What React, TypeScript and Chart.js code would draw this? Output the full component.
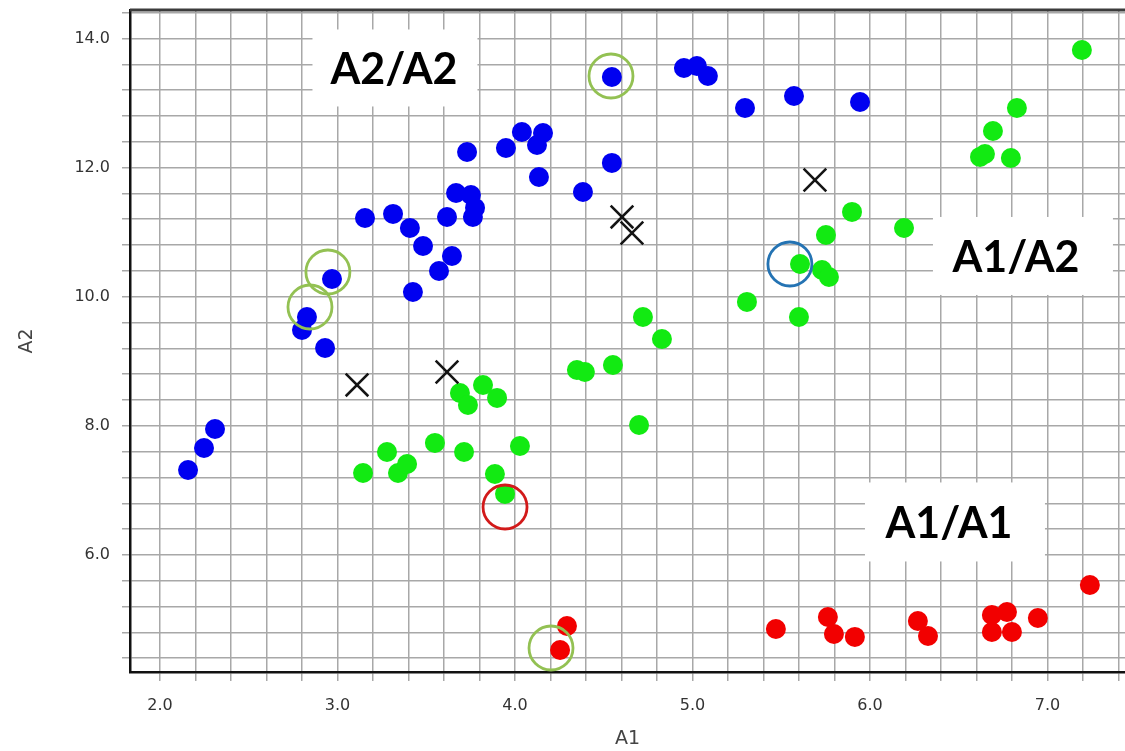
import { useEffect, useRef } from "react";
import { Chart, registerables } from "chart.js";

Chart.register(...registerables);

// Genotype clusters: A1 signal (x) vs A2 signal (y)
const a2a2A1 = [2.158, 2.248, 2.31, 2.8, 2.828, 2.93, 2.969, 3.155, 3.313, 3.408, 3.482, 3.645, 3.572, 3.425, 3.617, 3.668, 3.752, 3.775, 3.763, 3.73, 3.949, 4.039, 4.158, 4.124, 4.135, 4.383, 4.546, 4.546, 4.952, 5.025, 5.087, 5.296, 5.572, 5.944];
const a2a2A2 = [7.316, 7.657, 7.951, 9.485, 9.686, 9.206, 10.275, 11.22, 11.282, 11.065, 10.786, 10.631, 10.399, 10.073, 11.235, 11.607, 11.576, 11.375, 11.235, 12.242, 12.304, 12.552, 12.536, 12.35, 11.855, 11.622, 12.072, 13.404, 13.543, 13.574, 13.419, 12.923, 13.109, 13.016];

const a1a2A1 = [3.144, 3.279, 3.341, 3.392, 3.549, 3.713, 3.887, 3.944, 4.028, 3.69, 3.735, 3.82, 3.899, 4.349, 4.394, 4.552, 4.699, 4.721, 4.828, 5.307, 5.606, 5.6, 5.73, 5.769, 5.752, 5.899, 6.192, 6.62, 6.648, 6.794, 6.693, 6.828, 7.194];
const a1a2A2 = [7.27, 7.595, 7.27, 7.409, 7.735, 7.595, 7.254, 6.945, 7.688, 8.509, 8.323, 8.633, 8.432, 8.865, 8.834, 8.943, 8.013, 9.686, 9.345, 9.919, 10.507, 9.686, 10.414, 10.306, 10.956, 11.313, 11.065, 12.165, 12.211, 12.149, 12.567, 12.923, 13.822];

const a1a1A1 = [4.293, 4.254, 5.47, 5.763, 5.797, 5.915, 6.27, 6.327, 6.687, 6.772, 6.687, 6.8, 6.946, 7.239];
const a1a1A2 = [4.9, 4.528, 4.853, 5.039, 4.776, 4.73, 4.977, 4.745, 5.07, 5.117, 4.807, 4.807, 5.024, 5.535];

// No-call samples
const noCallA1 = [3.11, 3.617, 4.603, 4.659, 5.69];
const noCallA2 = [8.633, 8.834, 11.235, 10.987, 11.808];

// Highlighted samples
const greenRingA1 = [4.541, 2.946, 2.845, 4.203];
const greenRingA2 = [13.419, 10.383, 9.841, 4.559];
const redRingA1 = [3.944];
const redRingA2 = [6.743];
const blueRingA1 = [5.549];
const blueRingA2 = [10.507];

// Cluster captions
const clusterNames = ["A2/A2", "A1/A2", "A1/A1"];
const clusterNameA1 = [3.324, 6.862, 6.479];
const clusterNameA2 = [13.543, 10.631, 6.511];

// Axes
const xRange = [1.831, 7.437];
const yRange = [4.187, 14.441];
const xGridValues = [2.0, 2.2, 2.4, 2.6, 2.8, 3.0, 3.2, 3.4, 3.6, 3.8, 4.0, 4.2, 4.4, 4.6, 4.8, 5.0, 5.2, 5.4, 5.6, 5.8, 6.0, 6.2, 6.4, 6.6, 6.8, 7.0, 7.2, 7.4];
const yGridValues = [4.4, 4.8, 5.2, 5.6, 6.0, 6.4, 6.8, 7.2, 7.6, 8.0, 8.4, 8.8, 9.2, 9.6, 10.0, 10.4, 10.8, 11.2, 11.6, 12.0, 12.4, 12.8, 13.2, 13.6, 14.0, 14.4];
const xLabelValues = [2, 3, 4, 5, 6, 7];
const yLabelValues = [6, 8, 10, 12, 14];

const pts = (xs: number[], ys: number[]) => xs.map((x, i) => ({ x, y: ys[i] }));

// White caption boxes; dx nudges the text inside its box
const captionBoxes = [
  { w: 165, h: 77, dx: -1 },
  { w: 180, h: 78, dx: -7 },
  { w: 180, h: 79, dx: -6 },
];

const framePlugin = {
  id: "frameAndCaptions",
  beforeDatasetsDraw(chart: any) {
    const { ctx, chartArea, scales } = chart;
    ctx.save();
    ctx.strokeStyle = "#3c3c3c";
    ctx.lineWidth = 3;
    ctx.beginPath();
    ctx.moveTo(chartArea.left, chartArea.top);
    ctx.lineTo(chartArea.right, chartArea.top);
    ctx.stroke();

    ctx.font = "bold 43px Lato";
    ctx.textAlign = "center";
    ctx.textBaseline = "middle";
    clusterNames.forEach((name, i) => {
      const cx = scales.x.getPixelForValue(clusterNameA1[i]);
      const cy = scales.y.getPixelForValue(clusterNameA2[i]);
      const { w, h, dx } = captionBoxes[i];
      ctx.fillStyle = "#ffffff";
      ctx.fillRect(cx - w / 2, cy - h / 2, w, h);
      ctx.fillStyle = "#000000";
      ctx.fillText(name, cx + dx, cy + 2);
    });
    ctx.restore();
  },
};

const near = (list: number[], v: number) => list.some((l) => Math.abs(l - v) < 1e-6);

// Keep the plot area exactly where the fixed axis sizes put it
const fixBox = (s: any, size: { width?: number; height?: number }) => {
  if (size.width !== undefined) s.width = size.width;
  if (size.height !== undefined) s.height = size.height;
  s.paddingTop = 0;
  s.paddingBottom = 0;
  s.paddingLeft = 0;
  s.paddingRight = 0;
};

export default function App() {
  const canvasRef = useRef<HTMLCanvasElement | null>(null);

  useEffect(() => {
    if (!canvasRef.current) return;
    const ring = (data: any[], color: string) => ({
      data,
      pointStyle: "circle",
      pointRadius: 22,
      pointBorderWidth: 2.8,
      pointBorderColor: color,
      pointBackgroundColor: "rgba(0,0,0,0)",
      showLine: false,
    });
    const dots = (data: any[], color: string) => ({
      data,
      pointStyle: "circle",
      pointRadius: 10,
      pointBorderWidth: 0,
      pointBackgroundColor: color,
      pointBorderColor: color,
      showLine: false,
    });
    const chart = new Chart(canvasRef.current, {
      type: "scatter",
      data: {
        datasets: [
          ring(pts(greenRingA1, greenRingA2), "#93c153"),
          ring(pts(redRingA1, redRingA2), "#d21a1a"),
          ring(pts(blueRingA1, blueRingA2), "#2473b3"),
          {
            data: pts(noCallA1, noCallA2),
            pointStyle: "crossRot",
            pointRadius: 16,
            pointBorderWidth: 2.6,
            pointBorderColor: "#141414",
            showLine: false,
          } as any,
          dots(pts(a2a2A1, a2a2A2), "#0000f0"),
          dots(pts(a1a2A1, a1a2A2), "#12ea12"),
          dots(pts(a1a1A1, a1a1A2), "#f20000"),
        ],
      },
      options: {
        responsive: false,
        animation: false,
        events: [],
        layout: { autoPadding: false, padding: { top: 10, right: 0, left: 0, bottom: 0 } },
        plugins: { legend: { display: false }, tooltip: { enabled: false } },
        scales: {
          x: {
            type: "linear",
            min: xRange[0],
            max: xRange[1],
            afterBuildTicks: (s: any) => {
              s.ticks = xGridValues.map((v) => ({ value: v }));
            },
            afterFit: (s: any) => fixBox(s, { height: 79 }),
            ticks: {
              autoSkip: false,
              maxRotation: 0,
              padding: 15,
              color: "#333333",
              font: { family: "DejaVu Sans", size: 16 },
              callback: (v: any) => (near(xLabelValues, Number(v)) ? Number(v).toFixed(1) : ""),
            },
            grid: { color: "#a8a8a8", lineWidth: 1.5, tickLength: 9, tickColor: "#a8a8a8" },
            border: { color: "#111111", width: 2.5 },
            title: {
              display: true,
              text: "A1",
              color: "#444444",
              font: { family: "DejaVu Sans", size: 19 },
              padding: { top: 0, bottom: 1 },
            },
          },
          y: {
            type: "linear",
            min: yRange[0],
            max: yRange[1],
            afterBuildTicks: (s: any) => {
              s.ticks = yGridValues.map((v) => ({ value: v }));
            },
            afterFit: (s: any) => fixBox(s, { width: 130 }),
            ticks: {
              autoSkip: false,
              padding: 12,
              color: "#333333",
              font: { family: "DejaVu Sans", size: 16 },
              callback: (v: any) => (near(yLabelValues, Number(v)) ? Number(v).toFixed(1) : ""),
            },
            grid: { color: "#a8a8a8", lineWidth: 1.5, tickLength: 8, tickColor: "#a8a8a8" },
            border: { color: "#111111", width: 2.5 },
            title: {
              display: true,
              text: "A2",
              color: "#444444",
              font: { family: "DejaVu Sans", size: 19 },
              padding: { top: 16, bottom: 0 },
            },
          },
        },
      },
      plugins: [framePlugin],
    });
    return () => chart.destroy();
  }, []);

  return (
    <div
      style={{
        position: "fixed",
        left: 0,
        top: 0,
        width: 1125,
        height: 751,
        background: "#ffffff",
        overflow: "hidden",
      }}
    >
      <canvas ref={canvasRef} width={1125} height={751} style={{ display: "block" }} />
    </div>
  );
}
